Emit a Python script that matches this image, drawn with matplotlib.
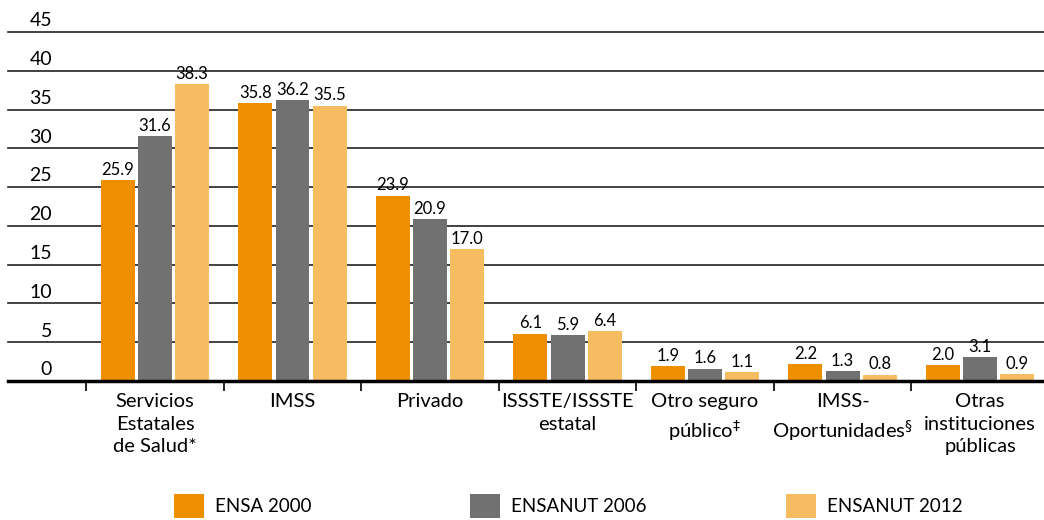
import numpy as np
import matplotlib
matplotlib.use("Agg")
import matplotlib.pyplot as plt
from matplotlib.patches import Patch
import matplotlib.transforms as mtransforms

# data
categorias = ["Servicios\nEstatales\nde Salud*", "IMSS", "Privado", "ISSSTE/ISSSTE\nestatal",
              "Otro seguro\npúblico$^{\\ddag}$", "IMSS-\nOportunidades$^{\\S}$",
              "Otras\ninstituciones\npúblicas"]
series = ["ENSA 2000", "ENSANUT 2006", "ENSANUT 2012"]
ensa_2000 = [25.9, 35.8, 23.9, 6.1, 1.9, 2.2, 2.0]
ensanut_2006 = [31.6, 36.2, 20.9, 5.9, 1.6, 1.3, 3.1]
ensanut_2012 = [38.3, 35.5, 17.0, 6.4, 1.1, 0.8, 0.9]
y_ticks = [0, 5, 10, 15, 20, 25, 30, 35, 40, 45]

colores = ["#EE8F00", "#717171", "#F5BC62"]

plt.rcParams['font.family'] = ['Lato', 'DejaVu Sans']
plt.rcParams['mathtext.fontset'] = 'dejavusans'

fig = plt.figure(figsize=(10.44, 5.2), dpi=100)
ax = fig.add_axes([8 / 1044, 1 - 381 / 520, 1 - 8 / 1044, (381 - 32) / 520])

x = np.arange(len(categorias))
step = 0.27
width = 0.247
for k, vals in enumerate([ensa_2000, ensanut_2006, ensanut_2012]):
    pos = x + (k - 1) * step
    ax.bar(pos, vals, width=width, color=colores[k], zorder=3)
    for p, v in zip(pos, vals):
        ax.text(p, v + 0.3, f"{v:.1f}", ha="center", va="bottom", fontsize=12, zorder=4)

ax.set_xlim(-1.069, 6.465)
ax.set_ylim(0, 45)

# gridlines and tick labels drawn inside the plot
trans = mtransforms.blended_transform_factory(ax.transAxes, ax.transData)
for t in y_ticks:
    if t == 0:
        ax.axhline(t, color="black", lw=2.5, zorder=5, clip_on=False)
    else:
        ax.axhline(t, color="#222222", lw=1.2, zorder=1, clip_on=False)
    ax.text(44 / 1036, t + 0.35, str(t), transform=trans, ha="right", va="bottom", fontsize=14)

for s in ax.spines.values():
    s.set_visible(False)
ax.set_yticks([])
ax.set_xticks(np.arange(-0.5, 6, 1))
ax.set_xticklabels([])
ax.tick_params(axis="x", length=7, width=1.2, color="black")

for i, c in enumerate(categorias):
    ax.text(i, -1.5, c, ha="center", va="top", fontsize=14.5, linespacing=1.42)

# one legend entry per series, placed like the original
leg_x = [174, 470, 786]
for k in range(3):
    h = Patch(facecolor=colores[k], label=series[k])
    fig.legend(handles=[h], loc="upper left", bbox_to_anchor=(leg_x[k] / 1044, 1 - 494 / 520),
               frameon=False, fontsize=13.5, handlelength=1.6, handleheight=1.6,
               handletextpad=0.6, borderpad=0, borderaxespad=0)

fig.savefig("out.png", dpi=100)
